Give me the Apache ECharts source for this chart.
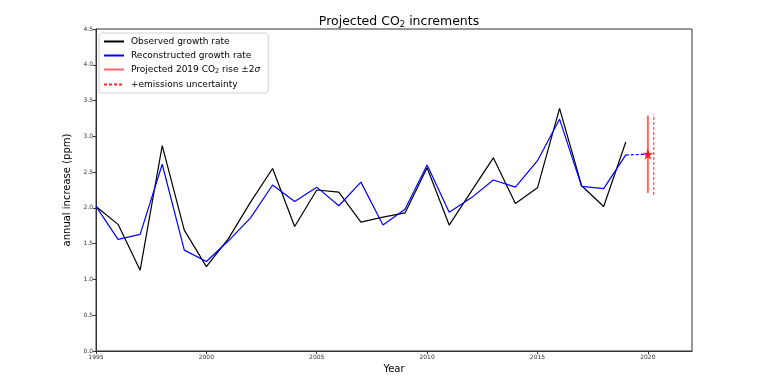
<!DOCTYPE html>
<html>
<head>
<meta charset="utf-8">
<script src="https://cdn.jsdelivr.net/npm/echarts@6/dist/echarts.min.js"></script>
<style>
  html, body { margin: 0; padding: 0; background: #fff; }
  #main { width: 768px; height: 384px; }
</style>
</head>
<body>
<div id="main"></div>
<script>
// 年份和两条增长率曲线
var years = [1995, 1996, 1997, 1998, 1999, 2000, 2001, 2002, 2003, 2004, 2005, 2006, 2007,
             2008, 2009, 2010, 2011, 2012, 2013, 2014, 2015, 2016, 2017, 2018, 2019];
var observed = [2.02, 1.77, 1.13, 2.87, 1.69, 1.18, 1.57, 2.08, 2.55, 1.74, 2.25, 2.22, 1.80,
                1.87, 1.93, 2.56, 1.76, 2.23, 2.70, 2.06, 2.28, 3.39, 2.31, 2.02, 2.92];
var reconstructed = [2.02, 1.56, 1.63, 2.61, 1.41, 1.25, 1.54, 1.86, 2.32, 2.09, 2.29, 2.03, 2.36,
                     1.76, 1.98, 2.60, 1.94, 2.14, 2.39, 2.29, 2.66, 3.24, 2.30, 2.27, 2.74];
// 2020 预测值及误差范围
var projYear = 2020;
var projValue = 2.75;
var projRange = [2.21, 3.29];
var emisYear = 2020.27;
var emisRange = [2.18, 3.31];
// 坐标轴刻度
var xTicks = [1995, 2022, 5];
var yTicks = [0, 4.5, 0.5];

var names = ['Observed growth rate', 'Reconstructed growth rate',
             'Projected 2019 CO2 rise ±2σ', '+emissions uncertainty'];

var pairs = function (xs, ys) {
    return xs.map(function (x, i) { return [x, ys[i]]; });
};

var star = 'path://M0,-10 L2.35,-3.24 L9.51,-3.09 L3.8,1.24 L5.88,8.09 L0,4 L-5.88,8.09 L-3.8,1.24 L-9.51,-3.09 L-2.35,-3.24 Z';
var font = 'DejaVu Sans';
// 图例里不要圆点
var hidden = { color: 'rgba(0,0,0,0)' };

var myChart = echarts.init(document.getElementById('main'));
myChart.setOption({
    animation: false,
    title: {
        text: 'Projected CO{sub|2} increments',
        left: 394,
        textAlign: 'center',
        top: 9,
        textStyle: {
            fontFamily: font, fontSize: 12.5, fontWeight: 'normal', color: '#000',
            rich: { sub: { fontFamily: font, fontSize: 8.5, verticalAlign: 'bottom', padding: [6, 0, 0, 0], color: '#000' } }
        }
    },
    grid: {
        left: 96, right: 76, top: 29, bottom: 33,
        show: true, borderColor: '#333', borderWidth: 1, backgroundColor: 'transparent'
    },
    legend: {
        orient: 'vertical',
        left: 99, top: 33,
        data: names,
        itemWidth: 20, itemHeight: 11, itemGap: 5,
        padding: [4, 8, 4, 4],
        borderColor: '#d0d0d0', borderWidth: 1, borderRadius: 3,
        backgroundColor: '#fff',
        formatter: function (n) {
            if (n.indexOf('CO2') >= 0) return 'Projected 2019 CO{sub|2} rise ±2{i|σ}';
            return n;
        },
        textStyle: {
            fontFamily: font, fontSize: 9, color: '#000', padding: [0, 0, 0, 2],
            rich: {
                sub: { fontFamily: font, fontSize: 6.5, verticalAlign: 'bottom', padding: [4, 0, 0, 0] },
                i: { fontFamily: font, fontSize: 9, fontStyle: 'italic' }
            }
        }
    },
    xAxis: {
        type: 'value',
        min: xTicks[0], max: xTicks[1], interval: xTicks[2],
        name: 'Year', nameLocation: 'middle', nameGap: 13,
        nameTextStyle: { fontFamily: font, fontSize: 10, color: '#000' },
        axisLine: { lineStyle: { color: '#333' } },
        axisTick: { length: 3, lineStyle: { color: '#333' } },
        axisLabel: { fontFamily: font, fontSize: 6, color: '#333', margin: 3, showMaxLabel: false,
                     formatter: function (v) { return String(v); } },
        splitLine: { show: false }
    },
    yAxis: {
        type: 'value',
        min: yTicks[0], max: yTicks[1], interval: yTicks[2],
        name: 'annual increase (ppm)', nameLocation: 'middle', nameGap: 15,
        nameTextStyle: { fontFamily: font, fontSize: 10, color: '#000' },
        axisLine: { show: true, lineStyle: { color: '#333' } },
        axisTick: { show: true, length: 3, lineStyle: { color: '#333' } },
        axisLabel: { fontFamily: font, fontSize: 6, color: '#333', margin: 3,
                     formatter: function (v) { return v.toFixed(1); } },
        splitLine: { show: false }
    },
    series: [
        {
            name: names[0], type: 'line', symbol: 'rect', showSymbol: false,
            lineStyle: { color: '#000', width: 1.2 }, itemStyle: hidden,
            data: pairs(years, observed)
        },
        {
            name: names[1], type: 'line', symbol: 'rect', showSymbol: false,
            lineStyle: { color: '#0000ff', width: 1.2 }, itemStyle: hidden,
            data: pairs(years, reconstructed)
        },
        {
            name: 'blue-proj', type: 'line', symbol: 'none',
            lineStyle: { color: '#0000ff', width: 1.2, type: [3, 2] },
            data: [[years[years.length - 1], reconstructed[reconstructed.length - 1]], [projYear, projValue]]
        },
        {
            name: names[2], type: 'line', symbol: 'rect', showSymbol: false,
            lineStyle: { color: 'rgba(255,0,0,0.6)', width: 2 }, itemStyle: hidden,
            data: [[projYear, projRange[0]], [projYear, projRange[1]]]
        },
        {
            name: names[3], type: 'line', symbol: 'rect', showSymbol: false,
            lineStyle: { color: 'rgba(255,0,0,0.85)', width: 1, type: [3, 2] }, itemStyle: hidden,
            data: [[emisYear, emisRange[0]], [emisYear, emisRange[1]]]
        },
        {
            name: 'star', type: 'scatter', symbol: star, symbolSize: 11,
            itemStyle: { color: '#ff0000' }, z: 5,
            data: [[projYear, projValue]]
        }
    ]
});
</script>
</body>
</html>
